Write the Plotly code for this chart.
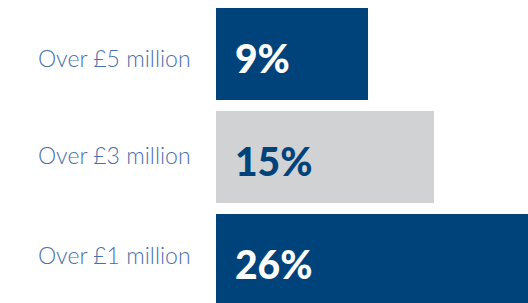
import plotly.graph_objects as go

categories = ["Over £5 million", "Over £3 million", "Over £1 million"]
values = [9, 15, 26]
value_labels = ["9%", "15%", "26%"]

bar_colors = ["#00427a", "#d1d2d4", "#00427a"]
label_colors = ["#ffffff", "#00427a", "#ffffff"]
cat_yshift = [-4, 2, 5]
BASE = -4.82

fig = go.Figure(
    go.Bar(
        y=categories,
        x=[v - BASE for v in values],
        base=BASE,
        orientation="h",
        marker=dict(color=bar_colors, line=dict(width=0)),
        hoverinfo="skip",
    )
)

for cat, lab, col, ys in zip(categories, value_labels, label_colors, cat_yshift):
    fig.add_annotation(
        x=BASE, y=cat, text=lab, showarrow=False, xanchor="left",
        xshift=17, yshift=-4,
        font=dict(family="Lato", size=39, color=col, weight=900),
    )
    fig.add_annotation(
        xref="paper", x=0, y=cat, text=cat, showarrow=False, xanchor="right",
        xshift=-23, yshift=ys,
        font=dict(family="Lato", size=23, color="#4a70a8", weight=300),
    )

fig.update_layout(
    width=528, height=303,
    margin=dict(l=216, r=0, t=0, b=0),
    paper_bgcolor="white", plot_bgcolor="white",
    bargap=0.107,
    showlegend=False,
    xaxis=dict(range=[BASE, BASE + 312 / 11], visible=False, fixedrange=True),
    yaxis=dict(
        range=[2.417, -0.524], showgrid=False, zeroline=False, showline=False,
        showticklabels=False, ticks="", fixedrange=True,
    ),
)

fig.write_html(
    "out.html",
    config={"displayModeBar": False},
    post_script="document.body.style.margin='0';document.body.style.padding='0';",
)
